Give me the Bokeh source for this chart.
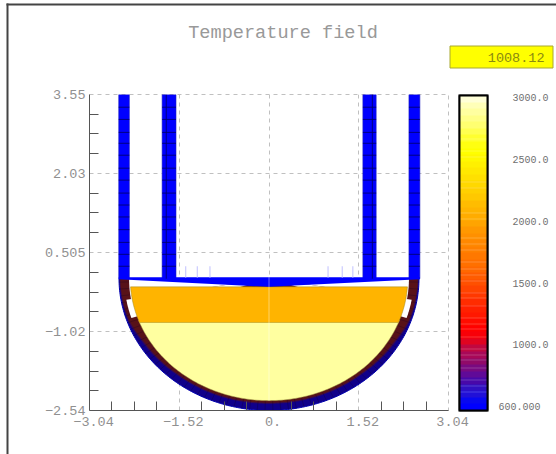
import numpy as np
from bokeh.plotting import figure
from bokeh.embed import file_html
from bokeh.resources import INLINE
from bokeh.core.properties import value
from bokeh.models import (Range1d, LinearAxis, FixedTicker, ColorBar, LinearColorMapper, Grid)

# ---- chart content ----
title_text = "Temperature field"
readout = "1008.12"
x_major = [-3.04, -1.52, 0.0, 1.52, 3.04]
x_labels = ["\u00a0\u22123.04", "\u00a0\u22121.52", "\u00a00.", "\u00a01.52", "\u00a03.04"]
y_major = [-2.54, -1.02, 0.505, 2.03, 3.55]
y_labels = ["\u22122.54", "\u22121.02", "0.505", "2.03", "3.55"]
x_minor = [-2.66, -2.28, -1.9, -1.14, -0.76, -0.38, 0.38, 0.76, 1.14, 1.9, 2.28, 2.66]
y_minor = [-2.16, -1.78, -1.4, -0.64, -0.26, 0.125, 0.885, 1.27, 1.65, 2.41, 2.79, 3.17]

pipe_left = [-2.545, -1.81, 1.59, 2.37]
pipe_right = [-2.365, -1.575, 1.815, 2.555]
pipe_top = 3.55
pipe_bottom = 0.0
pipe_seams = [-1.74, 1.75]
pipe_mesh_y = [3.305, 3.07, 2.82, 2.61, 2.38, 2.13, 1.90, 1.65, 1.42, 1.19, 0.945, 0.70, 0.47, 0.24]
wedge_x = [-2.545, 2.555, 2.555, 0.0, -2.545]
wedge_y = [0.03, 0.03, -0.01, -0.157, -0.01]
stub_x = [-1.41, -1.215, -1.0, 1.0, 1.24, 1.42]
stub_y = [0.02, 0.24]

shell_outer = 2.54
fluid_radius = 2.35
melt_top = -0.157
melt_interface = -0.843
band_angles = [0, 9, 19, 30, 50, 90]
brown_outer = [2.52, 2.51, 2.50, 2.44, 2.40, 2.39]
purple_outer = [2.53, 2.525, 2.52, 2.465, 2.42, 2.41]
gap_angles = [9.5, 18.0]
gap_radius = 2.45
top_gap_radius = 2.37

cb_low, cb_high = 600, 3000
cb_palette = ["#0000ff", "#0808f0", "#2010d8", "#3010c0", "#4808a8", "#600a98", "#780a80", "#900a68",
              "#a80858", "#c00840", "#e00420", "#f80008", "#ff0000", "#ff0c00", "#ff1800", "#ff2000",
              "#ff2c00", "#ff3800", "#ff4400", "#ff5000", "#ff5c00", "#ff6800", "#ff7000", "#ff7800",
              "#ff8000", "#ff8800", "#ff9000", "#ff9800", "#ffa400", "#ffac00", "#ffb400", "#ffbc00",
              "#ffc800", "#ffd000", "#ffd800", "#ffe000", "#ffe800", "#fff000", "#fff800", "#ffff00",
              "#ffff10", "#ffff30", "#ffff50", "#ffff70", "#ffff88", "#ffffa0", "#ffffb8", "#ffffd8"]
cb_stripes = [2666, 2575, 2529, 2339, 2294, 2104, 2058, 1914, 1868, 1823, 1732, 1678, 1633, 1587,
              1496, 1451, 1397, 1306, 1261, 1215, 1162, 1071, 1025, 980, 927, 835, 790, 737]
cb_labels = ["3000.0", "2500.0", "2000.0", "1500.0", "1000.0", "600.000"]

MONO = "Liberation Mono"
GREY = "#909090"

# ---- backdrop page: title, frame, read-out box, colour-bar labels (page pixels) ----
bg = figure(width=556, height=454, output_backend="svg", toolbar_location=None,
            x_range=Range1d(0, 556), y_range=Range1d(454, 0), x_axis_type=None, y_axis_type=None,
            min_border=0, outline_line_color=None, background_fill_color="white",
            border_fill_color="white")
bg.grid.visible = False
bg.styles = {"position": "absolute", "left": "0px", "top": "0px"}
bg.quad(left=[6, 6], right=[8, 556], top=[3, 3], bottom=[454, 5], fill_color="#444444", line_color=None)
bg.quad(left=[449.5], right=[552.5], top=[45.5], bottom=[67.5], fill_color="#ffff00", line_color="#a8a830",
        line_width=1, line_join="miter")
bg.text(x=[544], y=[57], text=[readout], text_font=value(MONO), text_font_size="13.5px",
        text_color="#8a8a10", text_align="right", text_baseline="middle")
bg.text(x=[282.5], y=[33], text=[title_text], text_font=value(MONO), text_font_size="18.6px",
        text_color="#999999", text_align="center", text_baseline="middle")
bg.text(x=[548, 548, 548, 548, 548, 540], y=[97, 159, 221, 283, 344, 406], text=cb_labels,
        text_font=value(MONO), text_font_size="10px", text_color="#707070", text_align="right",
        text_baseline="middle")

# ---- main plot, transparent, laid over the backdrop ----
p = figure(width=556, height=454, output_backend="svg", toolbar_location=None,
           x_range=Range1d(-3.04, 3.04), y_range=Range1d(-2.54, 3.55),
           x_axis_type=None, y_axis_type=None,
           min_border_left=89, min_border_right=108, min_border_top=94, min_border_bottom=44,
           outline_line_color="#c0c0c0", outline_line_dash="4 4",
           background_fill_color=None, border_fill_color=None)
p.styles = {"position": "absolute", "left": "0px", "top": "0px"}


def arc(r, a0=0.0, a1=180.0, n=181):
    t = np.radians(np.linspace(a0, a1, n))
    return r * np.cos(t), -r * np.sin(t)


def banded(angles, radii):
    right = np.linspace(0, 90, 91)
    rr = np.interp(right, angles, radii)
    t = np.radians(np.concatenate([right, 180 - right[::-1]]))
    r = np.concatenate([rr, rr[::-1]])
    return r * np.cos(t), -r * np.sin(t)


# shell, outside in
xs, ys = arc(shell_outer)
p.patch(xs, ys, fill_color="#10008a", line_color="#0000b0", line_width=1)
xs, ys = banded(band_angles, purple_outer)
p.patch(xs, ys, fill_color="#380a50", line_color=None)
xs, ys = banded(band_angles, brown_outer)
p.patch(xs, ys, fill_color="#581218", line_color=None)

# mesh of the shell
mesh_t = np.radians(np.arange(1.5, 180, 3.0))
p.segment(2.3 * np.cos(mesh_t), -2.3 * np.sin(mesh_t), shell_outer * np.cos(mesh_t), -shell_outer * np.sin(mesh_t),
          line_color="#100020", line_width=0.6, line_alpha=0.45)

# gaps between shell and melt
for a0, a1, r in [(0, gap_angles[0], top_gap_radius), (gap_angles[0], gap_angles[1], gap_radius)]:
    for s, e in [(a0, a1), (180 - a1, 180 - a0)]:
        ax, ay = arc(r, s, e, 15)
        p.patch(np.append(ax, 0), np.append(ay, 0), fill_color="white", line_color=None)

# melt pools: the lower pool runs under the upper one so no shell shows at the seam
ax, ay = arc(fluid_radius)
mask = ay <= melt_interface + 0.05
p.patch(ax[mask], ay[mask], fill_color="#ffffa0", line_color="#a09840", line_width=0.5)
t = np.radians(np.linspace(np.degrees(np.arcsin(-melt_top / fluid_radius)),
                           np.degrees(np.arcsin(-melt_interface / fluid_radius)), 20))
ox = fluid_radius * np.cos(t)
oy = -fluid_radius * np.sin(t)
p.patch(np.concatenate([ox, -ox[::-1]]), np.concatenate([oy, oy[::-1]]),
        fill_color="#ffb400", line_color="#a08820", line_width=0.5)

# pipes and wedge
p.quad(left=pipe_left, right=pipe_right, top=pipe_top, bottom=pipe_bottom,
       fill_color="#0000ff", line_color="#2020c0", line_width=0.6)
p.patch(wedge_x, wedge_y, fill_color="#0000ff", line_color=None)
mesh_x0 = []
mesh_x1 = []
mesh_y = []
for l, r in zip(pipe_left, pipe_right):
    for y in pipe_mesh_y:
        mesh_x0.append(l)
        mesh_x1.append(r)
        mesh_y.append(y)
p.segment(mesh_x0, mesh_y, mesh_x1, mesh_y, line_color="#00006a", line_width=1, line_alpha=0.85)
p.segment(pipe_seams, [pipe_top] * 2, pipe_seams, [pipe_bottom] * 2,
          line_color="#00006a", line_width=1, line_alpha=0.85)
p.segment(stub_x, [stub_y[0]] * 6, stub_x, [stub_y[1]] * 6, line_color="#c0c0ff", line_width=1)
p.segment([0], [0.03], [0], [-fluid_radius], line_color="white", line_alpha=0.4, line_width=1)

# axes
xa = LinearAxis(ticker=FixedTicker(ticks=x_major, minor_ticks=x_minor),
                major_label_overrides=dict(zip(x_major, x_labels)),
                major_label_text_font=MONO, major_label_text_font_size="13.5px",
                major_label_text_color=GREY, major_label_standoff=4,
                major_tick_in=0, major_tick_out=0,
                minor_tick_in=9, minor_tick_out=0, minor_tick_line_color="#555555",
                axis_line_color="#555555")
p.add_layout(xa, "below")
ya = LinearAxis(ticker=FixedTicker(ticks=y_major, minor_ticks=y_minor),
                major_label_overrides=dict(zip(y_major, y_labels)),
                major_label_text_font=MONO, major_label_text_font_size="13.5px",
                major_label_text_color=GREY, major_label_standoff=4,
                major_tick_in=0, major_tick_out=0, minor_tick_in=9, minor_tick_out=0,
                minor_tick_line_color="#555555", axis_line_color="#555555")
p.add_layout(ya, "left")

for dim, tk in [(0, x_major), (1, y_major)]:
    p.add_layout(Grid(dimension=dim, ticker=FixedTicker(ticks=tk), grid_line_color="#c0c0c0",
                      grid_line_dash="4 4", grid_line_width=1))

# colour bar: several palette entries per band, so the light stripes stay crisp
fine = [str(c) for c in np.repeat(cb_palette, 7)]
for v in cb_stripes:
    i = int((v - cb_low) / (cb_high - cb_low) * len(fine))
    c = fine[i]
    rgb = [int(c[k:k + 2], 16) for k in (1, 3, 5)]
    fine[i] = "#%02x%02x%02x" % tuple(int(q + (255 - q) * 0.2) for q in rgb)
mapper = LinearColorMapper(palette=fine, low=cb_low, high=cb_high)
cb = ColorBar(color_mapper=mapper, ticker=FixedTicker(ticks=[]),
              width=28, height=315, location=(369, -1), padding=1, margin=0,
              major_tick_line_color=None, minor_tick_line_color=None,
              bar_line_color="black", bar_line_width=2, border_line_color="#999999",
              background_fill_color=None)
p.add_layout(cb, "center")

open("out.html", "w").write(file_html([bg, p], INLINE))
